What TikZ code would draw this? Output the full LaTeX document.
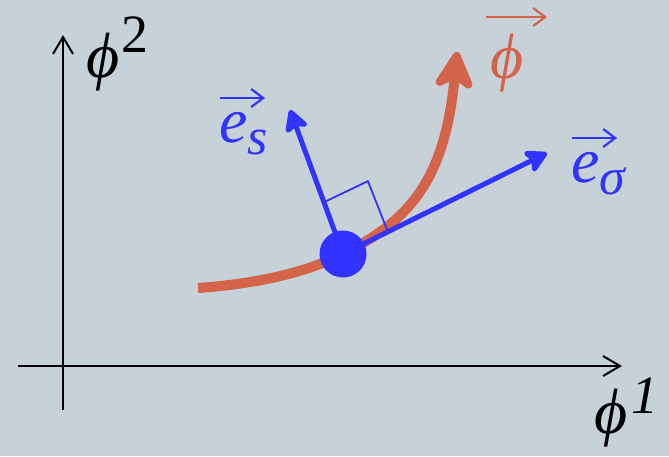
\documentclass[tikz,border=0pt]{standalone}
\usepackage{fix-cm}
\usepackage{fontspec}
\setmainfont{Liberation Serif}
\usetikzlibrary{arrows.meta,calc}
\definecolor{bgcol}{RGB}{198,209,216}
\definecolor{flowcol}{RGB}{211,100,74}
\definecolor{basiscol}{RGB}{51,51,255}
\newcommand{\bigphi}{{\fontsize{64}{64}\selectfont\itshape ϕ}}
\newcommand{\supnum}[2]{\raisebox{#1}{\fontsize{54}{54}\selectfont #2}}
\newcommand{\subsym}[1]{\raisebox{-12pt}{\fontsize{52}{52}\selectfont\itshape #1}}

\begin{document}
\begin{tikzpicture}[x=1pt, y=-1pt,
  axis/.style={line width=2pt, -{Straight Barb[length=17pt,width=20pt]}},
  basis/.style={basiscol, line width=5pt, -{Stealth[round,length=26pt,width=28pt,inset=6pt]}},
  flow/.style={flowcol, line width=10pt, -{Stealth[round,length=46pt,width=48pt,inset=14pt]}},
  vecbar/.style={line width=2.2pt, -{Straight Barb[length=12pt,width=18pt]}},
  lbl/.style={inner sep=0pt, anchor=base west, font=\fontsize{64}{64}\selectfont}]

\fill[bgcol] (0,0) rectangle (669,456);

% axes
\coordinate (xfrom) at (18,366);
\coordinate (xto) at (622,366);
\coordinate (yfrom) at (63,410);
\coordinate (yto) at (63,35);
\draw[axis] (xfrom) -- (xto);
\draw[axis] (yfrom) -- (yto);
\node[lbl] (phione) at (594,433) {\bigphi\hspace{4pt}\supnum{20pt}{\itshape 1}};
\node[lbl] (phitwo) at (86,77) {\bigphi\hspace{2pt}\supnum{25pt}{2}};

% curve
\coordinate (cstart) at (198,288);
\coordinate (cmid) at (343,254);
\coordinate (ctip) at (457,52);
\draw[flow] (cstart) .. controls (280,282) and (320,265) .. (cmid)
  .. controls (410,220) and (445,180) .. (ctip);
\node[lbl, text=flowcol] (phivec) at (490,78) {\bigphi};
\draw[vecbar, flowcol] ([shift={(-4,-61)}]phivec.base west) -- ++(61,0);

% basis vectors
\coordinate (estip) at (290,110);
\coordinate (esigtip) at (547,153);
\draw[basis] (cmid) -- (estip);
\draw[basis] (cmid) -- (esigtip);
\draw[basiscol, line width=1.8pt] ($(cmid)!0.36!(estip)$) coordinate (ra)
  -- ($(ra)+(44,-21)$) coordinate (rc)
  -- ($(cmid)!0.22!(esigtip)$) coordinate (rb);
\node[circle, fill=basiscol, minimum size=47pt, inner sep=0pt] (pt) at (cmid) {};
\node[lbl, text=basiscol] (es) at (219,142) {\textit{e}\subsym{s}};
\draw[vecbar, basiscol] ([shift={(1,-44)}]es.base west) -- ++(45,0);
\node[lbl, text=basiscol] (esig) at (571,182) {\textit{e}\subsym{σ}};
\draw[vecbar, basiscol] ([shift={(1,-44)}]esig.base west) -- ++(45,0);

\end{tikzpicture}
\end{document}
